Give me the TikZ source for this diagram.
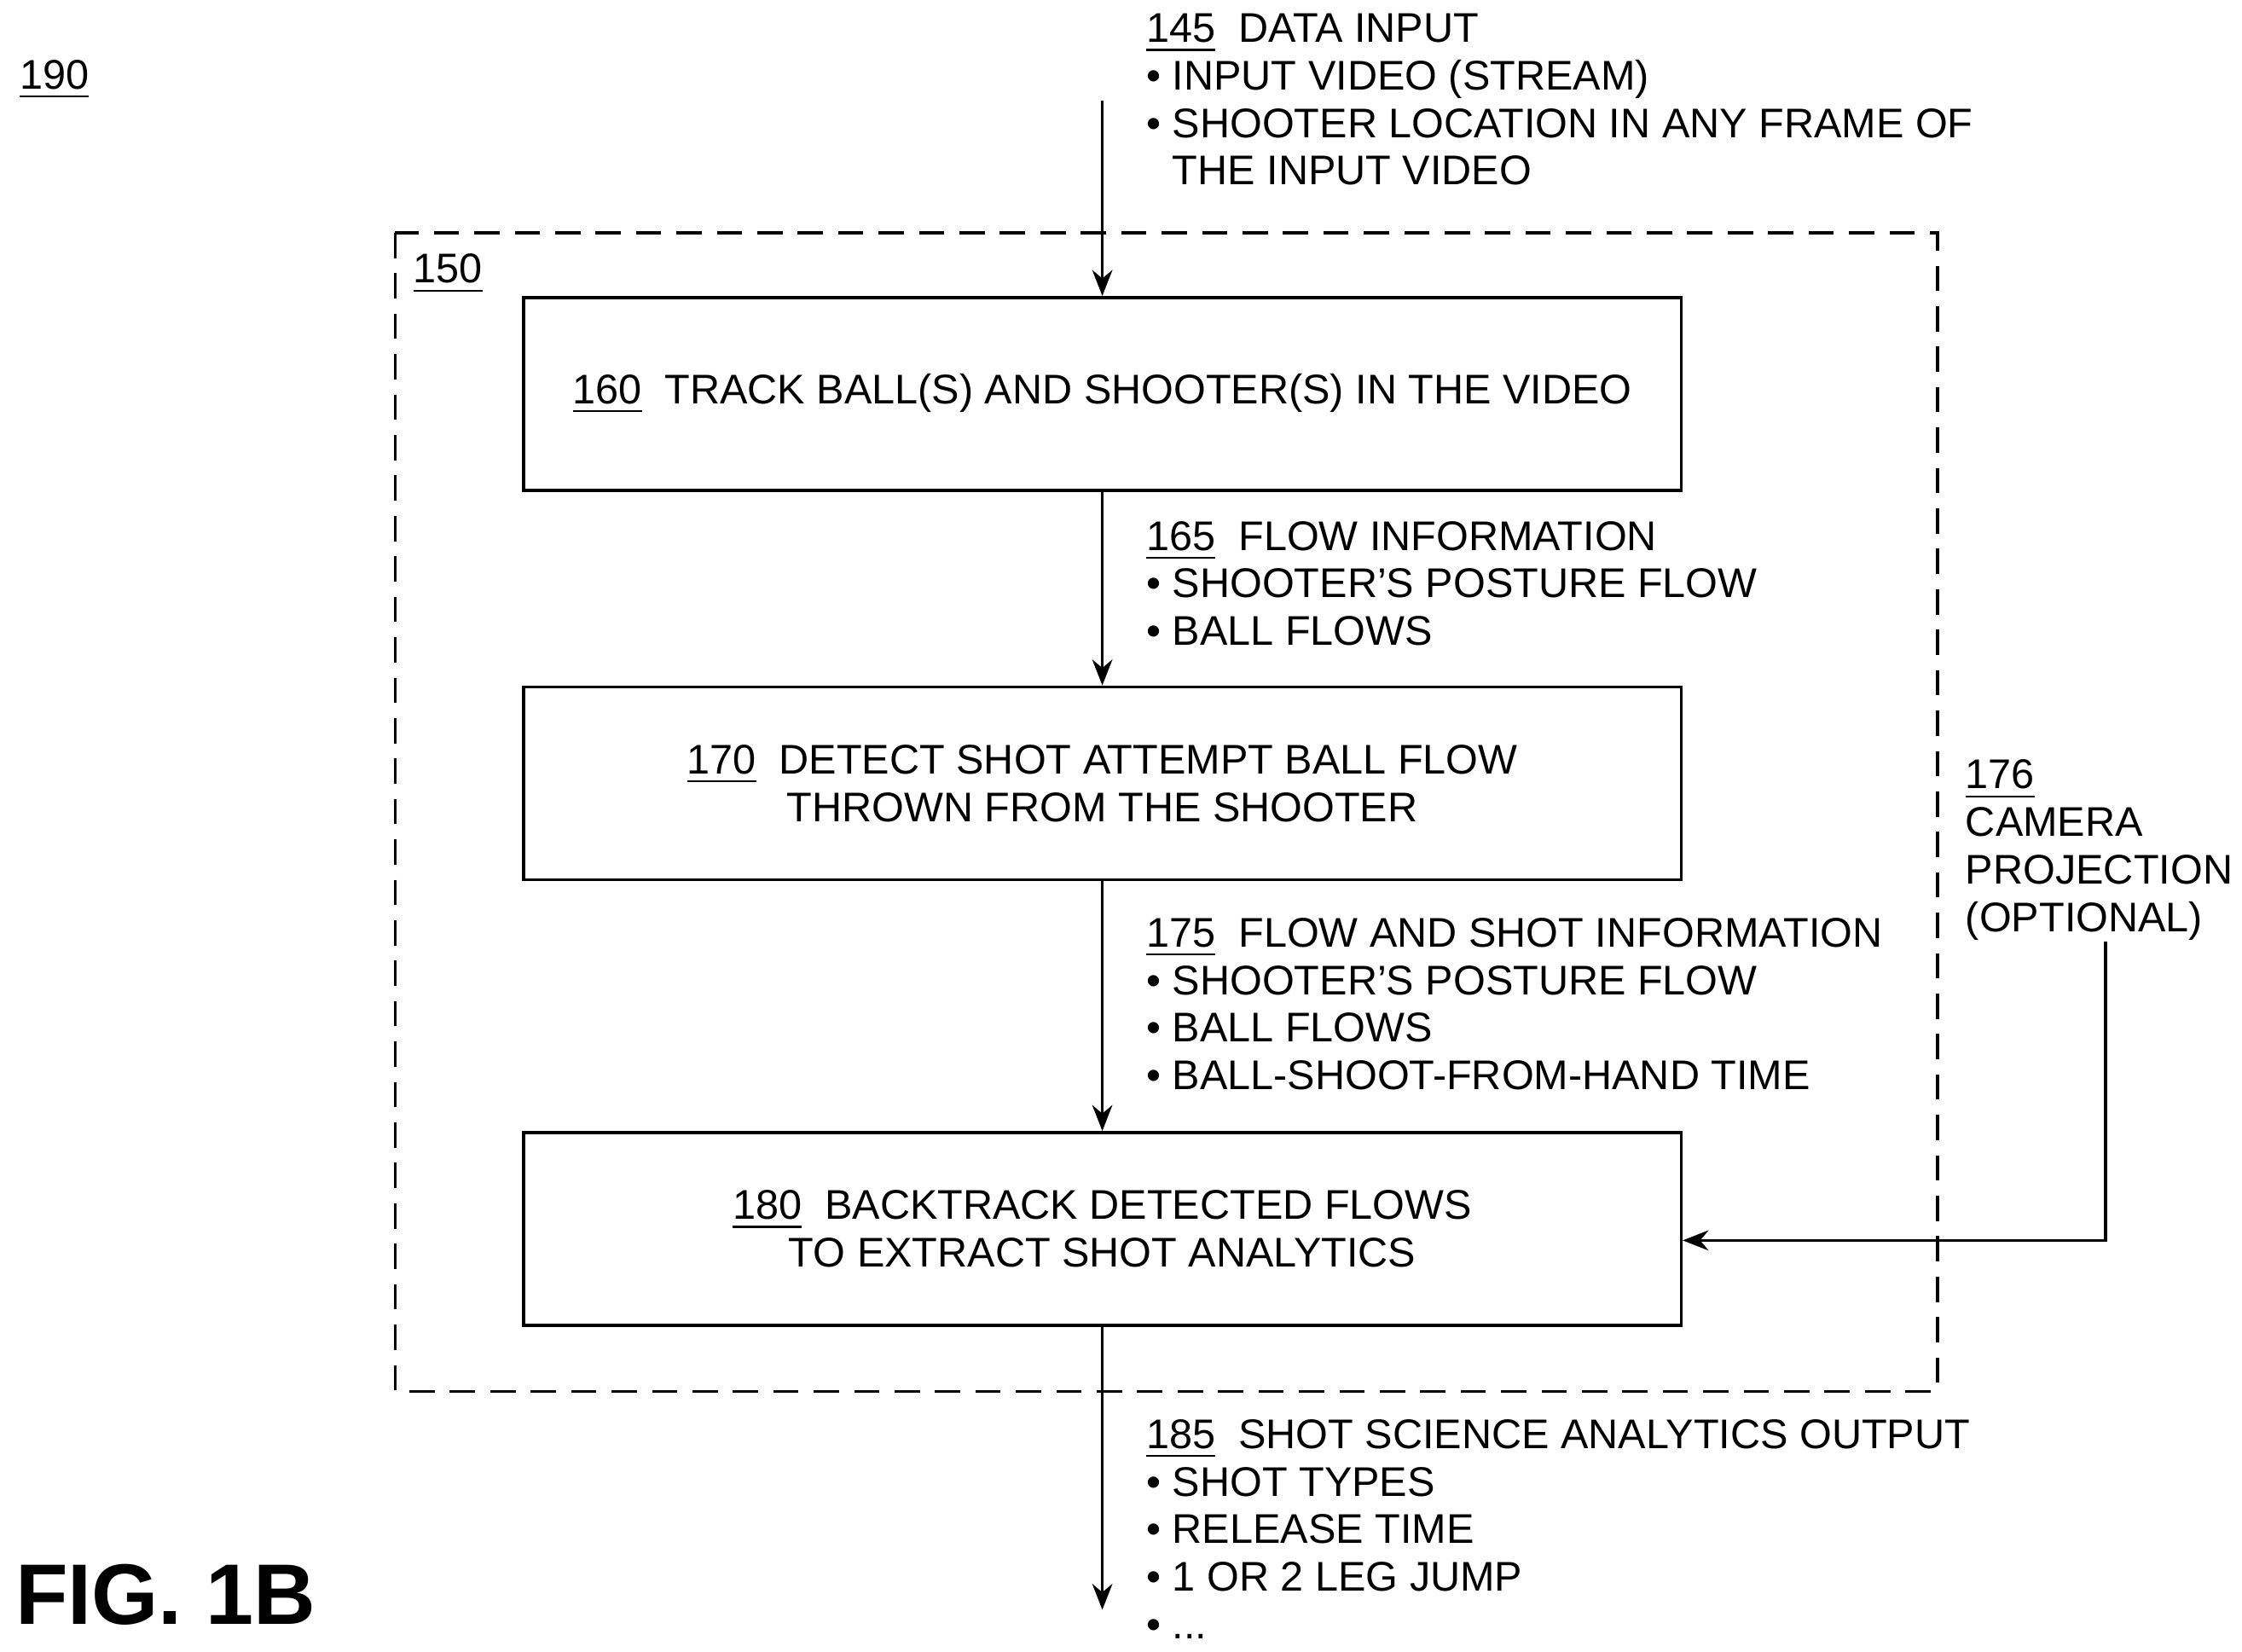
\documentclass[tikz,border=0pt]{standalone}
\usepackage{fontspec}
\setmainfont{Liberation Sans}
\usetikzlibrary{arrows.meta, calc}

\begin{document}
\begin{tikzpicture}[x=0.01cm,y=-0.01cm,font=\fontsize{8.2}{9.4}\selectfont]

  % Define styles
  \tikzset{
    process/.style={draw=black, line width=0.6pt, minimum width=8.05cm, minimum height=1.34cm, align=center, inner sep=0pt},
    info/.style={anchor=north west, align=left, inner sep=0pt},
    ref/.style={anchor=base west, inner sep=0pt},
    arrow/.style={-{Stealth[length=1.8mm,width=1.4mm]}, line width=0.6pt}
  }

  \useasboundingbox (0,0) rectangle (1560,1149);

  %% Frame and labels
  \draw[dash pattern=on 5pt off 3pt, line width=0.6pt] (275,162) rectangle (1348,968);
  \node[ref] (l190) at (13,62) {\underline{190}};
  \node[ref] (l150) at (287,197) {\underline{150}};
  \node[ref, font=\bfseries\fontsize{17}{20}\selectfont] (fig) at (10,1130) {FIG. 1B};

  %% Steps
  \node[process] (track) at (767,274) {\underline{160}\ \ TRACK BALL(S) AND SHOOTER(S) IN THE VIDEO};
  \node[process] (detect) at (767,545) {\underline{170}\ \ DETECT SHOT ATTEMPT BALL FLOW\\THROWN FROM THE SHOOTER};
  \node[process] (back) at (767,855) {\underline{180}\ \ BACKTRACK DETECTED FLOWS\\TO EXTRACT SHOT ANALYTICS};

  %% Data labels
  \node[info] (input) at (797,9)
    {\underline{145}\ \ DATA INPUT\\\textbullet\ INPUT VIDEO (STREAM)\\\textbullet\ SHOOTER LOCATION IN ANY FRAME OF\\\phantom{\textbullet}\ THE INPUT VIDEO};
  \node[info] (flow) at (797,362)
    {\underline{165}\ \ FLOW INFORMATION\\\textbullet\ SHOOTER'S POSTURE FLOW\\\textbullet\ BALL FLOWS};
  \node[info] (shot) at (797,638)
    {\underline{175}\ \ FLOW AND SHOT INFORMATION\\\textbullet\ SHOOTER'S POSTURE FLOW\\\textbullet\ BALL FLOWS\\\textbullet\ BALL-SHOOT-FROM-HAND TIME};
  \node[info] (output) at (797,987)
    {\underline{185}\ \ SHOT SCIENCE ANALYTICS OUTPUT\\\textbullet\ SHOT TYPES\\\textbullet\ RELEASE TIME\\\textbullet\ 1 OR 2 LEG JUMP\\\textbullet\ ...};
  \node[info] (camera) at (1367,528)
    {\underline{176}\\CAMERA\\PROJECTION\\(OPTIONAL)};

  %% Connectors
  \coordinate (start) at (767,70);
  \coordinate (finish) at (767,1120);
  \coordinate (cam) at (1465,655);
  \draw[arrow] (start) -- (track.north);
  \draw[arrow] (track) -- (detect);
  \draw[arrow] (detect) -- (back);
  \draw[arrow] (back.south) -- (finish);
  \draw[arrow] (cam) |- (back.east |- 0,863);

\end{tikzpicture}
\end{document}
